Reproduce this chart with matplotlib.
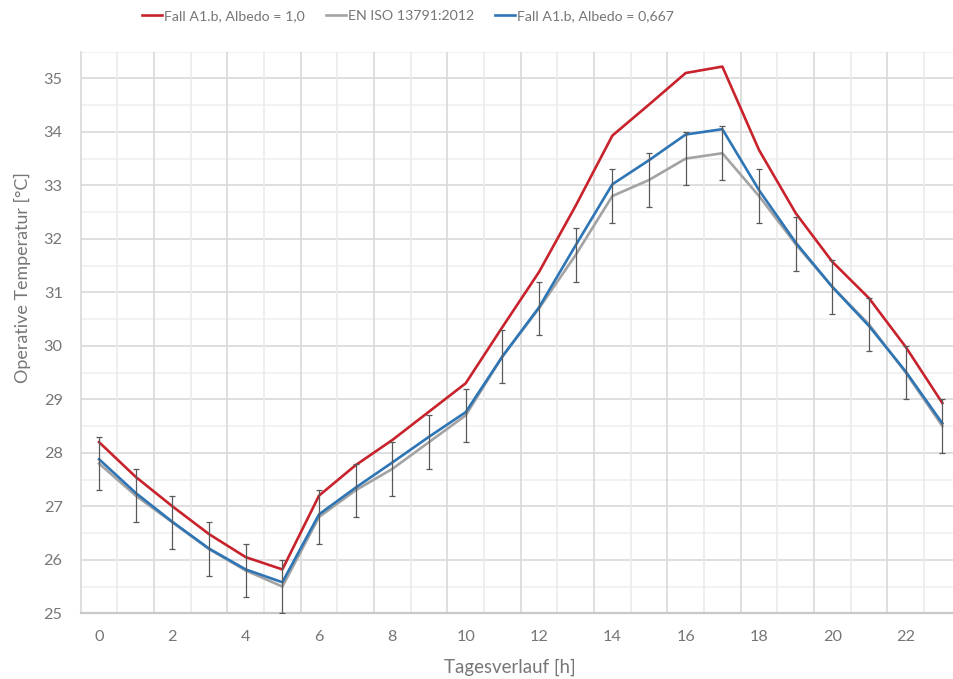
import numpy as np
import matplotlib
matplotlib.use("Agg")
import matplotlib.pyplot as plt

# Stunden (Kategorien) und Tick-Beschriftungen
hours = list(range(24))
tick_hours = [0, 2, 4, 6, 8, 10, 12, 14, 16, 18, 20, 22]

# Operative Temperatur [°C]
albedo_10 = [28.2, 27.55, 27.0, 26.48, 26.05, 25.82, 27.2, 27.77, 28.24, 28.77, 29.3, 30.35,
             31.38, 32.62, 33.93, 34.51, 35.1, 35.22, 33.66, 32.48, 31.57, 30.89, 29.98, 28.93]
en_iso = [27.8, 27.2, 26.7, 26.2, 25.8, 25.5, 26.8, 27.3, 27.7, 28.2, 28.7, 29.8,
          30.7, 31.7, 32.8, 33.1, 33.5, 33.6, 32.8, 31.9, 31.1, 30.4, 29.5, 28.5]
albedo_0667 = [27.88, 27.25, 26.71, 26.21, 25.82, 25.58, 26.85, 27.35, 27.82, 28.3, 28.76, 29.8,
               30.72, 31.88, 33.02, 33.47, 33.95, 34.05, 32.91, 31.93, 31.1, 30.37, 29.52, 28.55]
iso_err = 0.5  # Toleranz EN ISO 13791

labels = ["Fall A1.b, Albedo = 1,0", "EN ISO 13791:2012", "Fall A1.b, Albedo = 0,667"]

TXT = "#767676"
plt.rcParams["font.family"] = ["Lato", "DejaVu Sans"]

fig = plt.figure(figsize=(9.54, 6.79), dpi=100)
# Achse reicht rechts ueber das Bild hinaus (Original ist abgeschnitten)
ax = fig.add_axes([80.7 / 954, 1 - 613.3 / 679, 880 / 954, 561.7 / 679])

ax.set_xlim(-0.5, 23.5)
ax.set_ylim(25, 35.5)

# Gitter: horizontal Haupt- und Hilfslinien, vertikal an Kategoriegrenzen
for y in np.arange(25.5, 35.6, 1.0):
    ax.axhline(y, color="#F0F0F0", lw=1.2, zorder=0)
for y in np.arange(26, 35.1, 1.0):
    ax.axhline(y, color="#D9D9D9", lw=1.2, zorder=0)
for i, x in enumerate(np.arange(0.5, 23.6, 1.0)):
    ax.axvline(x, color="#D9D9D9" if i % 2 == 1 else "#EBEBEB", lw=1.2, zorder=0)

ax.plot(hours, albedo_10, color="#C8232C", lw=1.9, label=labels[0], zorder=3)
ax.plot(hours, en_iso, color="#A3A3A3", lw=1.9, label=labels[1], zorder=3)
ax.plot(hours, albedo_0667, color="#2E75B6", lw=1.9, label=labels[2], zorder=4)
ax.errorbar(hours, en_iso, yerr=iso_err, fmt="none", ecolor="#595959",
            elinewidth=0.9, capsize=2.2, capthick=0.9, zorder=5)

for side in ["top", "right"]:
    ax.spines[side].set_visible(False)
ax.spines["left"].set_color("#D9D9D9")
ax.spines["left"].set_linewidth(1.2)
ax.spines["bottom"].set_color("#C8C8C8")
ax.spines["bottom"].set_linewidth(1.6)

ax.set_xticks(tick_hours)
ax.set_xticklabels([str(h) for h in tick_hours])
ax.set_yticks(range(25, 36))
ax.tick_params(axis="x", length=0, pad=12, labelsize=11.7, colors=TXT)
ax.tick_params(axis="y", length=0, pad=13, labelsize=11.7, colors=TXT)

fig.text(510 / 954, 1 - 667 / 679, "Tagesverlauf [h]", ha="center", va="center",
         fontsize=13.4, color=TXT)
fig.text(22 / 954, 1 - 277.5 / 679, "Operative Temperatur [°C]", ha="center", va="center",
         rotation=90, fontsize=12.9, color=TXT)

fig.legend(loc="center", bbox_to_anchor=(408 / 954, 1 - 16 / 679), ncol=3, frameon=False,
           fontsize=10.2, labelcolor=TXT, handlelength=1.4, handletextpad=0.15,
           columnspacing=1.5)

fig.savefig("out.png", dpi=100)
